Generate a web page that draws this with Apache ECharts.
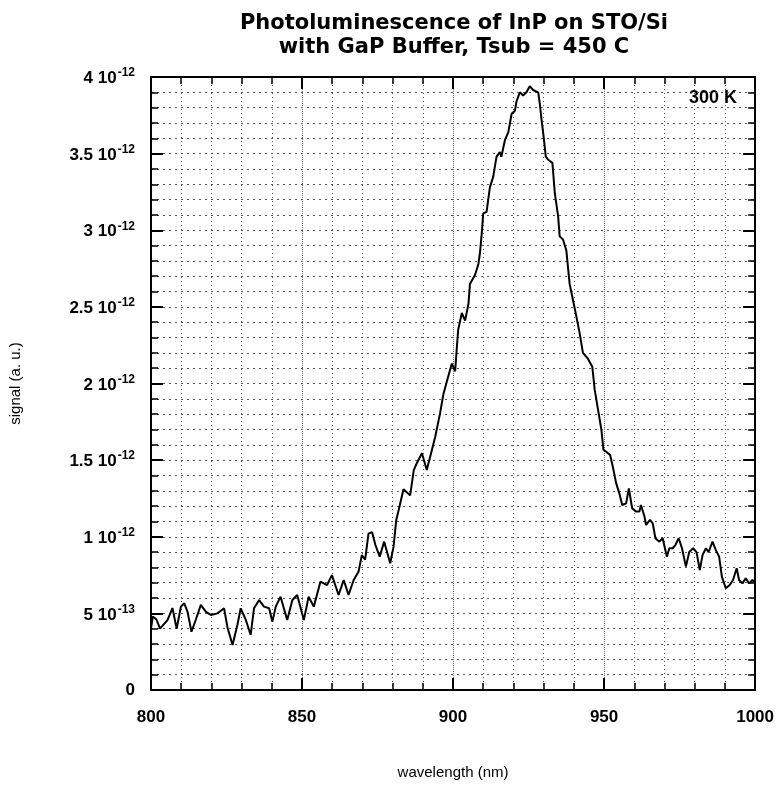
<!DOCTYPE html>
<html>
<head>
<meta charset="utf-8">
<script src="https://cdn.jsdelivr.net/npm/echarts@6/dist/echarts.min.js"></script>
<style>
html,body{margin:0;padding:0;background:#fff;}
#chart{width:777px;height:796px;}
</style>
</head>
<body>
<div id="chart"></div>
<script>
// wavelength (nm)
var wavelengths = [800,800.6,801.8,803.0,805.5,807.1,808.5,809.9,811,812.1,813.4,814.8,816.5,818.2,819.8,822,824.2,825.3,827,828.6,829.7,831.4,833,834.1,835.8,837.4,839.1,840.2,841.3,842.9,845.1,846.8,848.4,850.6,852.2,853.9,856.1,858.3,859.9,862.1,863.8,865.4,867.1,868.7,869.8,870.9,872,873.2,874.3,875.7,877.2,879.2,880.3,881.2,882,883.6,885.8,887,888,889.7,891.3,893,894.1,895.7,896.8,897.9,899.6,900.7,901.2,901.7,902.9,904,905.1,905.6,907.3,908.4,908.9,909.5,910,911.1,912.2,913.3,914.4,915.5,916,917.2,918.3,919.4,920.5,921,922.1,923.2,924.3,925.4,926.5,928.2,928.7,929.3,930,930.7,931.5,932.9,933.7,934.8,935.3,936.4,937.5,938.6,939.7,940.8,941.9,943,944.7,946.1,946.9,948,949.1,949.8,950.7,952,952.9,954,955.1,956,957.3,958.2,959.3,960.6,961.7,962.2,963.4,963.9,965.2,966.1,967,968.3,969.4,970.8,971.6,972.7,973.6,974.7,975.8,977.1,978.2,979.5,980.6,981.7,982.6,983.7,984.6,985.9,987,988.1,989,990.3,991.6,992.7,993.9,994.7,995.8,996.9,998,999.1,1000];
// signal in units of 1e-12 (a.u.)
var signalE12 = [0.40,0.48,0.46,0.40,0.457,0.535,0.40,0.544,0.566,0.51,0.38,0.457,0.555,0.51,0.49,0.50,0.533,0.41,0.294,0.424,0.533,0.457,0.359,0.533,0.587,0.544,0.533,0.446,0.544,0.609,0.457,0.587,0.62,0.457,0.609,0.544,0.707,0.685,0.75,0.62,0.718,0.62,0.718,0.772,0.88,0.85,1.02,1.03,0.946,0.87,0.968,0.827,0.935,1.11,1.175,1.31,1.27,1.435,1.48,1.545,1.435,1.566,1.653,1.805,1.93,2.01,2.13,2.08,2.22,2.35,2.46,2.41,2.52,2.65,2.71,2.78,2.85,2.98,3.11,3.12,3.28,3.35,3.48,3.51,3.48,3.59,3.64,3.76,3.78,3.84,3.90,3.88,3.90,3.94,3.915,3.90,3.83,3.72,3.61,3.48,3.46,3.44,3.24,3.09,2.96,2.94,2.87,2.65,2.545,2.44,2.33,2.20,2.16,2.11,1.96,1.83,1.70,1.566,1.555,1.533,1.457,1.35,1.28,1.207,1.218,1.316,1.186,1.164,1.164,1.207,1.13,1.077,1.11,1.088,0.99,0.968,0.99,0.87,0.925,0.925,0.946,0.99,0.925,0.805,0.90,0.925,0.90,0.783,0.88,0.925,0.90,0.968,0.913,0.87,0.74,0.664,0.685,0.718,0.794,0.718,0.696,0.729,0.696,0.718,0.70];
var xTickLabels = {800:'800',850:'850',900:'900',950:'950',1000:'1000'};
var yTickLabels = {0:'0',0.5:'5 10|-13',1:'1 10|-12',1.5:'1.5 10|-12',2:'2 10|-12',2.5:'2.5 10|-12',3:'3 10|-12',3.5:'3.5 10|-12',4:'4 10|-12'};
var titleText = 'Photoluminescence of InP on STO/Si\nwith GaP Buffer, Tsub = 450 C';

var data = wavelengths.map(function(w,i){return [w, signalE12[i]];});
var chart = echarts.init(document.getElementById('chart'));
var FONT = 'Liberation Sans';
var axisBase = {
  axisLine:{show:true,onZero:false,lineStyle:{color:'#000',width:2}},
  axisTick:{show:true,inside:true,length:12,lineStyle:{color:'#000',width:2}},
  minorTick:{show:true,splitNumber:5,length:7,lineStyle:{color:'#000',width:1.5}}
};
chart.setOption({
  animation:false,
  backgroundColor:'#fff',
  title:{text:titleText,left:449,top:7,textAlign:'center',
    textStyle:{fontFamily:'DejaVu Sans',fontWeight:'bold',fontSize:21,lineHeight:24,color:'#000'}},
  grid:{left:150,right:21,top:77,bottom:106,show:false},
  graphic:[{type:'text',left:689,top:89,style:{text:'300 K',font:'bold 18px "Liberation Sans"',fill:'#000'}}],
  xAxis:[
    Object.assign({type:'value',min:800,max:1000,interval:50,position:'bottom',
      name:'wavelength (nm)',nameLocation:'middle',nameGap:75,
      nameTextStyle:{fontFamily:FONT,fontSize:15,color:'#000'},
      axisLabel:{fontFamily:FONT,fontSize:17,fontWeight:'bold',color:'#000',margin:19,
        formatter:function(v){return xTickLabels[v]||'';}},
      splitLine:{show:true,lineStyle:{color:'#666',width:1,type:[1,1]}},
      minorSplitLine:{show:true,lineStyle:{color:'#555',width:1,type:[1,3]}}
    },axisBase),
    Object.assign({type:'value',min:800,max:1000,interval:50,position:'top',
      axisLabel:{show:false},splitLine:{show:false}},axisBase)
  ],
  yAxis:[
    Object.assign({type:'value',min:0,max:4,interval:0.5,position:'left',
      name:'signal (a. u.)',nameLocation:'middle',nameGap:128,nameRotate:90,
      nameTextStyle:{fontFamily:FONT,fontSize:15,color:'#000'},
      axisLabel:{margin:16,formatter:function(v){
          var s = yTickLabels[v]; if(s===undefined) return '';
          var p = s.split('|'); if(p.length===1) return '{m|'+p[0]+'}';
          return '{m|'+p[0]+'}{s|'+p[1]+'}';},
        rich:{m:{fontFamily:FONT,fontSize:17,fontWeight:'bold',color:'#000',verticalAlign:'bottom'},
              s:{fontFamily:FONT,fontSize:12,fontWeight:'bold',color:'#000',verticalAlign:'bottom',padding:[0,0,8,1]}}},
      splitLine:{show:true,lineStyle:{color:'#555',width:1,type:[2,4]}},
      minorSplitLine:{show:true,lineStyle:{color:'#555',width:1,type:[2,4]}}
    },axisBase),
    Object.assign({type:'value',min:0,max:4,interval:0.5,position:'right',
      axisLabel:{show:false},splitLine:{show:false}},axisBase)
  ],
  series:[{type:'line',data:data,showSymbol:false,symbol:'none',
    lineStyle:{color:'#000',width:2},xAxisIndex:0,yAxisIndex:0}]
});
</script>
</body>
</html>
